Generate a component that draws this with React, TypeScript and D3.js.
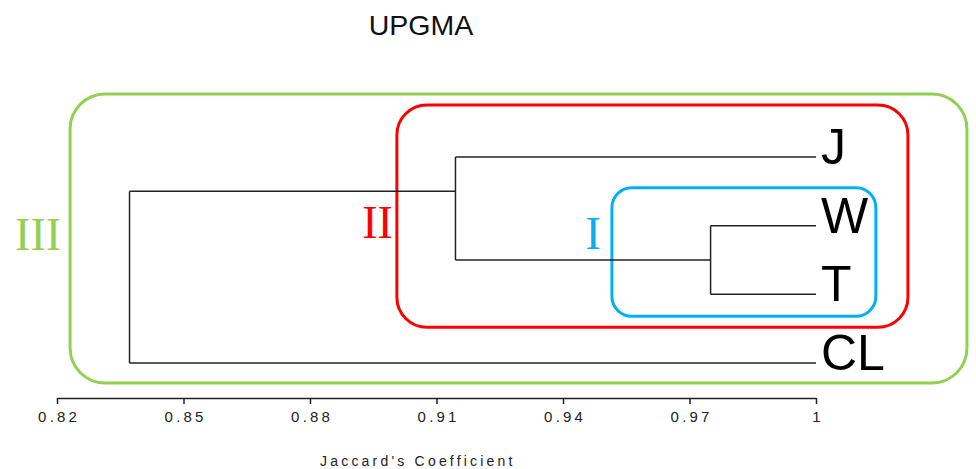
import React, { useEffect, useRef } from 'react';
import * as d3 from 'd3';

// leaves top to bottom
const leaves = ['J', 'W', 'T', 'CL'];
// merges (UPGMA), height = Jaccard coefficient where the join happens
const merges = [
  { id: 'n1', children: ['W', 'T'], height: 0.975 },
  { id: 'n2', children: ['J', 'n1'], height: 0.9145 },
  { id: 'n3', children: ['n2', 'CL'], height: 0.8372 },
];
const tickValues = [0.82, 0.85, 0.88, 0.91, 0.94, 0.97, 1];
const tickLabels = ['0.82', '0.85', '0.88', '0.91', '0.94', '0.97', '1'];

// cluster groupings drawn round the tree
const clusterNames = ['I', 'II', 'III'];
const clusterMembers = [['W', 'T'], ['J', 'W', 'T'], ['J', 'W', 'T', 'CL']];
const clusterFrom = [0.9516, 0.9006, 0.8231];
const clusterTo = [1.0142, 1.0218, 1.0358];
const clusterColors = ['#00b0f0', '#ff0000', '#92d050'];

const W = 976;
const H = 469;

const App = () => {
  const axisRef = useRef<SVGGElement>(null);

  const x = d3.scaleLinear().domain([0.82, 1]).range([57, 816]);
  const y = d3.scalePoint<string>().domain(leaves).range([157, 363]);

  // collect leaves for each node
  const leafOf: Record<string, string[]> = {};
  const heightOf: Record<string, number> = {};
  leaves.forEach(l => { leafOf[l] = [l]; heightOf[l] = 1; });
  merges.forEach(m => {
    leafOf[m.id] = m.children.flatMap(c => leafOf[c]);
    heightOf[m.id] = m.height;
  });
  // attach point = between the first two leaves of the subtree
  const nodeY = (id: string) => {
    const ls = leafOf[id];
    if (ls.length === 1) return y(ls[0])!;
    return (y(ls[0])! + y(ls[1])!) / 2;
  };

  useEffect(() => {
    const g = d3.select(axisRef.current);
    g.selectAll('*').remove();
    const axis = d3.axisBottom(x)
      .tickValues(tickValues)
      .tickFormat((d, i) => tickLabels[i])
      .tickSizeInner(6)
      .tickSizeOuter(0)
      .tickPadding(7);
    g.call(axis as any);
    g.select('.domain').attr('stroke', '#222').attr('stroke-width', 1.5);
    g.selectAll('.tick line').attr('stroke', '#222').attr('stroke-width', 1.5);
    g.selectAll('.tick text')
      .attr('fill', '#222')
      .attr('font-size', 15)
      .attr('font-family', 'Arial, "Liberation Sans", sans-serif')
      .attr('letter-spacing', 3.2)
      .attr('dx', 1.6);
  }, []);

  const lineColor = '#222';

  return (
    <svg width={W} height={H} style={{ position: 'absolute', left: 0, top: 0, background: '#fff' }}>
      <text x={421} y={35} textAnchor="middle" fontSize={28.5}
        fontFamily='Arial, "Liberation Sans", sans-serif' fill="#111">UPGMA</text>

      {/* cluster boxes */}
      {clusterNames.map((name, i) => {
        const ys = clusterMembers[i].map(l => y(l)!);
        const pad = [[38, 22], [52, 33], [63, 20]][i];
        const r = [20, 30, 35][i];
        const x0 = x(clusterFrom[i]);
        const x1 = x(clusterTo[i]);
        const y0 = d3.min(ys)! - pad[0];
        const y1 = d3.max(ys)! + pad[1];
        const labelGap = [11, 4, 9][i];
        const labelY = [249, 238, 250][i];
        return (
          <g key={name}>
            <rect x={x0} y={y0} width={x1 - x0} height={y1 - y0} rx={r} ry={r}
              fill="none" stroke={clusterColors[i]} strokeWidth={3} />
            <text x={x0 - labelGap} y={labelY} textAnchor="end" fontSize={46}
              fontFamily='"Times New Roman", "Liberation Serif", serif' fill={clusterColors[i]}>{name}</text>
          </g>
        );
      })}

      {/* dendrogram */}
      {merges.map(m => {
        const hx = x(m.height);
        const ys = m.children.map(nodeY);
        return (
          <g key={m.id} stroke={lineColor} strokeWidth={1.5} fill="none">
            <line x1={hx} x2={hx} y1={ys[0]} y2={ys[1]} />
            {m.children.map((c, j) => (
              <line key={c} x1={hx} x2={x(heightOf[c])} y1={ys[j]} y2={ys[j]} />
            ))}
          </g>
        );
      })}

      {leaves.map(l => (
        <text key={l} x={x(1) + 5} y={y(l)! + 7} fontSize={50}
          fontFamily='Arial, "Liberation Sans", sans-serif' fill="#000">{l}</text>
      ))}

      <g ref={axisRef} transform="translate(0,398)" />

      <text x={320} y={466} fontSize={14} letterSpacing={3.2}
        fontFamily='Arial, "Liberation Sans", sans-serif' fill="#222">Jaccard's Coefficient</text>
    </svg>
  );
};

export default App;
